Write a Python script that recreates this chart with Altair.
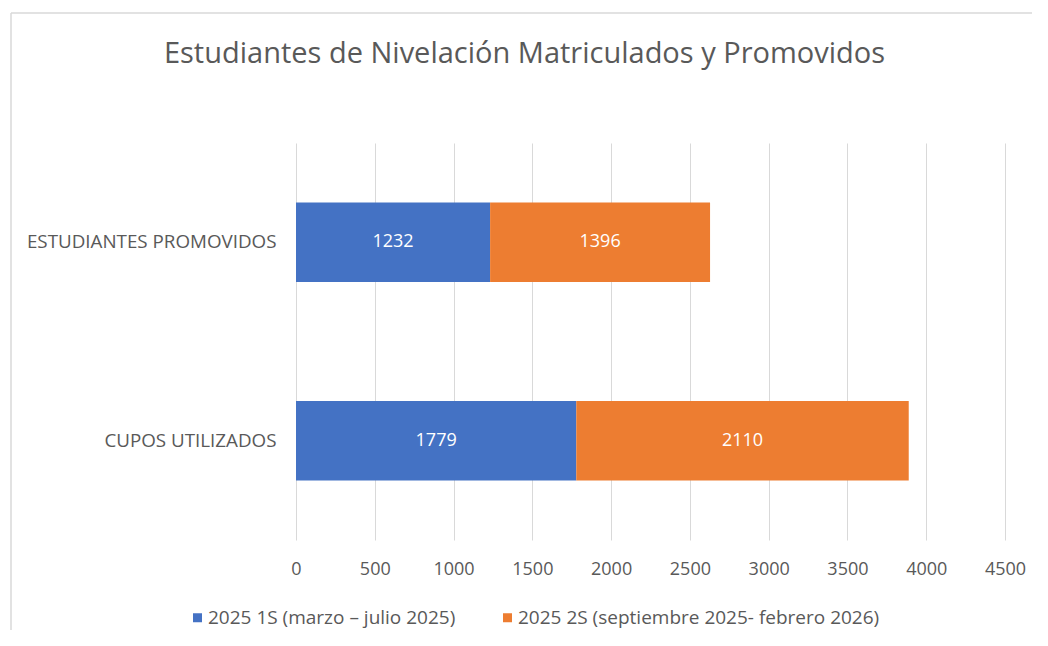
import altair as alt
import pandas as pd

categories = ["ESTUDIANTES PROMOVIDOS", "CUPOS UTILIZADOS"]
series = ["2025 1S (marzo – julio 2025)", "2025 2S (septiembre 2025- febrero 2026)"]
values_1s = [1232, 1779]
values_2s = [1396, 2110]
x_ticks = [0, 500, 1000, 1500, 2000, 2500, 3000, 3500, 4000, 4500]
colors = ["#4472C4", "#ED7D31"]
title_text = "Estudiantes de Nivelación Matriculados y Promovidos"

FONT = "Open Sans"
TXT = "#595959"

rows = []
for i, c in enumerate(categories):
    rows.append(dict(cat=c, serie=series[0], val=values_1s[i], ord=0))
    rows.append(dict(cat=c, serie=series[1], val=values_2s[i], ord=1))
df = pd.DataFrame(rows)

yscale = alt.Scale(domain=categories, paddingInner=0.6, paddingOuter=0.3)
xscale = alt.Scale(domain=[0, 4500], nice=False, zero=True)

x_axis = alt.Axis(values=x_ticks, title=None, grid=True, gridColor="#d9d9d9",
                  gridWidth=1, domain=False, ticks=False, labelPadding=20,
                  labelFontSize=18, labelColor=TXT, labelFont=FONT,
                  format="d", labelFlush=False, labelOverlap=False)
y_axis = alt.Axis(title=None, labelFontSize=18.8, labelColor=TXT, labelFont=FONT,
                  labelPadding=20, ticks=False, domain=False, grid=False,
                  labelLimit=400)

base = alt.Chart(df)

bars = base.mark_bar().encode(
    x=alt.X("val:Q", stack="zero", scale=xscale, axis=x_axis),
    y=alt.Y("cat:N", sort=categories, scale=yscale, axis=y_axis),
    color=alt.Color("serie:N", scale=alt.Scale(domain=series, range=colors),
                    legend=alt.Legend(title=None, orient="none", legendX=-108, legendY=465,
                                      direction="horizontal", columns=2, columnPadding=42,
                                      symbolType="square", symbolSize=81,
                                      symbolStrokeWidth=0, labelFontSize=19,
                                      labelColor=TXT, labelFont=FONT, labelOffset=1,
                                      labelLimit=500)),
    order=alt.Order("ord:Q"),
)

labels = base.transform_stack(
    stack="val", groupby=["cat"], sort=[alt.SortField("ord")], as_=["v0", "v1"]
).transform_calculate(
    mid="(datum.v0 + datum.v1) / 2"
).mark_text(color="white", fontSize=18, font=FONT).encode(
    x=alt.X("mid:Q", scale=xscale, axis=x_axis),
    y=alt.Y("cat:N", sort=categories, scale=yscale, axis=y_axis),
    text=alt.Text("val:Q"),
)

border_df = pd.DataFrame({"k": [0]})
border_left = alt.Chart(border_df).mark_rule(color="#d9d9d9", strokeWidth=1.5).encode(
    x=alt.value(-285), y=alt.value(-130), y2=alt.value(520)
)
border_top = alt.Chart(border_df).mark_rule(color="#d9d9d9", strokeWidth=1.5).encode(
    x=alt.value(-285), x2=alt.value(740), y=alt.value(-130)
)

chart = alt.layer(border_left, border_top, bars, labels).properties(
    width=709,
    height=397,
    background="white",
    autosize=alt.AutoSizeParams(type="none"),
    padding={"left": 288, "top": 135, "right": 27, "bottom": 90},
    title=alt.TitleParams(title_text, fontSize=29, font=FONT, fontWeight="normal", color=TXT,
                          anchor="middle", dx=-126, offset=-57),
).configure_view(strokeWidth=0, stroke="transparent")

chart.save("out.html", embed_options={"renderer": "svg", "actions": False})
